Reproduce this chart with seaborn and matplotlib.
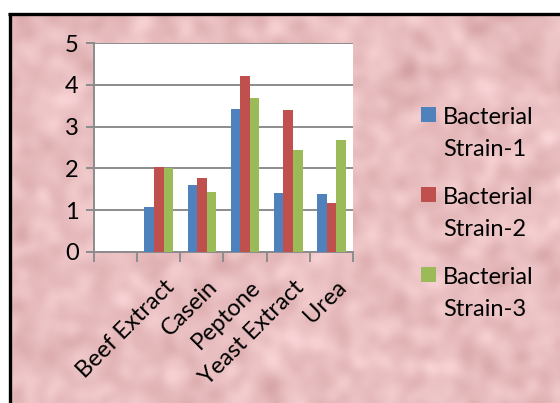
import numpy as np
import pandas as pd
import matplotlib
matplotlib.use("Agg")
import matplotlib.pyplot as plt
import matplotlib.transforms as mtransforms
from matplotlib.patches import Rectangle
import seaborn as sns

# Growth by nitrogen source for three bacterial strains
sources = ["Beef Extract", "Casein", "Peptone", "Yeast Extract", "Urea"]
strain_1 = [1.07, 1.61, 3.41, 1.42, 1.38]
strain_2 = [2.03, 1.76, 4.21, 3.39, 1.17]
strain_3 = [2.00, 1.43, 3.68, 2.43, 2.68]
series_names = ["Bacterial Strain-1", "Bacterial Strain-2", "Bacterial Strain-3"]
y_ticks = [0, 1, 2, 3, 4, 5]
colors = ["#4F81BD", "#C0504D", "#9BBB59"]

df = pd.DataFrame({
    "source": sources * 3,
    "value": strain_1 + strain_2 + strain_3,
    "strain": [n for n in series_names for _ in sources],
})

sns.set_theme(style="white")
plt.rcParams["font.family"] = ["Lato", "DejaVu Sans"]

W, H = 560, 403
fig = plt.figure(figsize=(W / 100, H / 100), dpi=100)
fig.patch.set_facecolor("white")

def px(x, y):
    """Pixel position (from top-left) to figure fraction."""
    return x / W, (H - y) / H

# mottled pink paper backdrop inside the frame
rng = np.random.default_rng(7)
tex = rng.normal(size=(H, W))
k = np.fft.fftfreq(H)[:, None] ** 2 + np.fft.fftfreq(W)[None, :] ** 2
tex = np.real(np.fft.ifft2(np.fft.fft2(tex) * np.exp(-k * 2 * (6.0 ** 2) * np.pi ** 2)))
tex = (tex - tex.mean()) / tex.std()
base = np.array([233, 190, 192]) / 255.0
var = np.array([5, 7, 7]) / 255.0
img = np.clip(base[None, None, :] + tex[:, :, None] * var[None, None, :], 0, 1)

bg = fig.add_axes([0, 0, 1, 1], zorder=-5)
bg.set_xlim(0, W)
bg.set_ylim(H, 0)
bg.axis("off")
bg.imshow(img[: H - 14, : W - 9], extent=(9, W, H, 14), aspect="auto", interpolation="bilinear")
bg.plot([9.5, 9.5], [13, H], color="black", lw=2.4, solid_capstyle="butt")
bg.plot([8, W], [14, 14], color="black", lw=2.4, solid_capstyle="butt")

# plot area
x0, x1, y_top, y_bot = 94, 353, 43, 252
ax = fig.add_axes([x0 / W, (H - y_bot) / H, (x1 - x0) / W, (y_bot - y_top) / H])
ax.set_facecolor("white")

slots = [" "] + sources
sns.barplot(data=df, x="source", y="value", hue="strain", order=slots,
            hue_order=series_names, palette=colors, width=0.665,
            linewidth=0, saturation=1, legend=False, ax=ax, zorder=3)

grid_col = "#8C8C8C"
ax.set_ylim(0, 5)
ax.set_xlim(-0.5, len(slots) - 0.5)
ax.set_yticks(y_ticks)
ax.set_yticklabels([str(t) for t in y_ticks], fontsize=17, color="black")
ax.yaxis.grid(True, color=grid_col, lw=1.4, zorder=0)
ax.set_axisbelow(True)
ax.tick_params(axis="y", length=6, width=1.4, color=grid_col, direction="out", pad=5, left=True)

centers = np.arange(len(slots))
ax.set_xticks(centers)
ax.set_xticklabels([""] + sources, fontsize=17, color="black",
                   rotation=45, ha="right", va="center", rotation_mode="anchor")
ax.set_xticks(np.arange(len(slots) + 1) - 0.5, minor=True)
ax.tick_params(axis="x", which="major", length=0, pad=0)
ax.tick_params(axis="x", which="minor", length=7, width=1.4, color=grid_col, direction="out", bottom=True)
offset = mtransforms.ScaledTranslation(0.12, -0.32, fig.dpi_scale_trans)
for lab in ax.get_xticklabels():
    lab.set_transform(lab.get_transform() + offset)

for side in ["top", "right"]:
    ax.spines[side].set_visible(False)
for side in ["left", "bottom"]:
    ax.spines[side].set_color(grid_col)
    ax.spines[side].set_linewidth(1.4)
ax.set_xlabel("")
ax.set_ylabel("")

# legend: colour square beside a two-line label
for i, (name, col) in enumerate(zip(series_names, colors)):
    top = 107 + 80 * i
    rx, ry = px(421, top + 15)
    fig.patches.append(Rectangle((rx, ry), 15 / W, 15 / H, transform=fig.transFigure,
                                 facecolor=col, edgecolor="none"))
    first, second = name.split(" ", 1)
    tx, ty = px(443, top + 16.5)
    fig.text(tx, ty, first, fontsize=17, va="baseline", ha="left", color="black")
    tx, ty = px(443, top + 48.5)
    fig.text(tx, ty, second, fontsize=17, va="baseline", ha="left", color="black")

fig.savefig("out.png", dpi=100)
